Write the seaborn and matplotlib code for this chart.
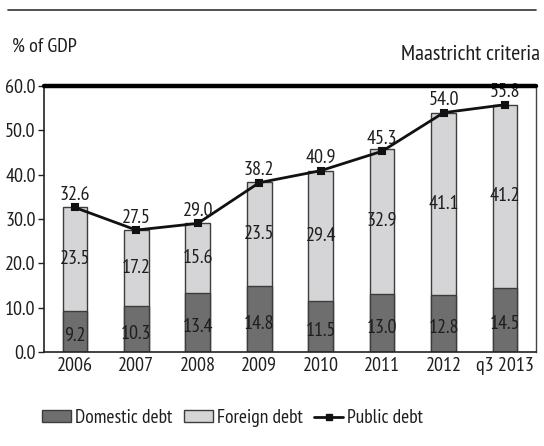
import matplotlib
matplotlib.use("Agg")
import matplotlib.pyplot as plt
import seaborn as sns
import pandas as pd
from matplotlib.lines import Line2D
from matplotlib.patches import Patch

years = ["2006", "2007", "2008", "2009", "2010", "2011", "2012", "q3 2013"]
domestic = [9.2, 10.3, 13.4, 14.8, 11.5, 13.0, 12.8, 14.5]
foreign = [23.5, 17.2, 15.6, 23.5, 29.4, 32.9, 41.1, 41.2]
public = [32.6, 27.5, 29.0, 38.2, 40.9, 45.3, 54.0, 55.8]
maastricht = 60.0

sns.set_style("white")
plt.rcParams['font.family'] = ['PT Sans Narrow', 'DejaVu Sans']
plt.rcParams['font.size'] = 14.5

df = pd.DataFrame({"year": years, "domestic": domestic, "foreign": foreign, "public": public})
df["stack"] = df["domestic"] + df["foreign"]

dark = "#6e6e6e"
light = "#d5d5d7"
edge = "#3c3c3c"
txt = "#1e1e1e"
fs = 14.5

fig = plt.figure(figsize=(5.44, 4.46), dpi=100)
ax = fig.add_axes([0.081, 0.211, 0.904, 0.596])

sns.barplot(data=df, x="year", y="stack", color=light, width=0.4,
            edgecolor=edge, linewidth=1.0, saturation=1, ax=ax)
sns.barplot(data=df, x="year", y="domestic", color=dark, width=0.4,
            edgecolor=edge, linewidth=1.0, saturation=1, ax=ax)
sns.pointplot(data=df, x="year", y="public", color="#111111", markers="s",
              markersize=5, linewidth=2, ax=ax)

for i in range(len(years)):
    ax.text(i, domestic[i] / 2 - 1.0, f"{domestic[i]:.1f}", ha="center", va="center",
            fontsize=fs, color=txt)
    ax.text(i, domestic[i] + foreign[i] / 2, f"{foreign[i]:.1f}", ha="center", va="center",
            fontsize=fs, color=txt)
    ax.text(i, public[i] + 2.8, f"{public[i]:.1f}", ha="center", va="center",
            fontsize=fs, color=txt)

ax.axhline(maastricht, color="black", lw=3.2, zorder=5, clip_on=False)

ax.set_xlim(-0.5, len(years) - 0.5)
ax.set_ylim(0, 60)
ax.set_yticks([0, 10, 20, 30, 40, 50, 60])
ax.set_yticklabels([f"{v:.1f}" for v in [0, 10, 20, 30, 40, 50, 60]])
ax.set_xlabel("")
ax.set_ylabel("")

ax.set_xticks([i - 0.5 for i in range(len(years) + 1)], minor=True)
ax.tick_params(axis="x", which="major", length=0, pad=4, labelsize=fs, labelcolor=txt)
ax.tick_params(axis="x", which="minor", length=20, width=1.2, color="#222222", direction="out")
ax.tick_params(axis="y", which="major", length=4, width=1, color="#222222", direction="out",
               left=True, pad=2, labelsize=fs, labelcolor=txt)

for s in ["left", "bottom"]:
    ax.spines[s].set_color("#222222")
    ax.spines[s].set_linewidth(1.2)
ax.spines["right"].set_color("#444444")
ax.spines["right"].set_linewidth(1.0)
ax.spines["top"].set_visible(False)

fig.add_artist(Line2D([8 / 544, 536 / 544], [1 - 10 / 446, 1 - 10 / 446],
                      color="#333333", lw=1.2))
fig.text(12 / 544, 1 - 47 / 446, "% of GDP", ha="left", va="center", fontsize=14.5, color=txt)
fig.text(540 / 544, 1 - 55 / 446, "Maastricht criteria", ha="right", va="center",
         fontsize=16, color=txt)

handles = [
    Patch(facecolor=dark, edgecolor=edge, label="Domestic debt"),
    Patch(facecolor=light, edgecolor=edge, label="Foreign debt"),
    Line2D([0], [0], color="#111111", lw=2, marker="s", markersize=5, label="Public debt"),
]
fig.legend(handles=handles, loc="center left", bbox_to_anchor=(24 / 544, 1 - 418 / 446),
           ncol=3, frameon=False, fontsize=14, handlelength=1.5, handleheight=0.55,
           handletextpad=0.2, columnspacing=0.6, labelcolor=txt)

fig.savefig("out.png", dpi=100)
